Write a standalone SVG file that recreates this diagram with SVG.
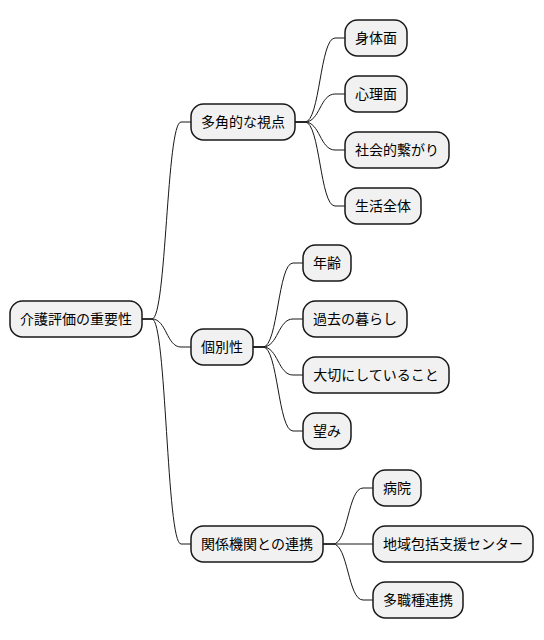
<svg xmlns="http://www.w3.org/2000/svg" width="544" height="640" viewBox="0 0 544 640">
<style>
.box{fill:#F1F1F1;stroke:#181818;stroke-width:1.5}
.lbl{font-family:"Noto Sans CJK JP","Noto Sans CJK SC",sans-serif;font-size:14px;fill:#000000;text-anchor:middle}
.c{fill:none;stroke:#181818;stroke-width:1}
</style>
<rect width="544" height="640" fill="#FFFFFF"/>
<g id="connectors">
<path class="c" d="M142,319 L152,319 C166.5,319 166.5,122 181,122 L191,122"/>
<path class="c" d="M142,319 L152,319 C166.5,319 166.5,347 181,347 L191,347"/>
<path class="c" d="M142,319 L152,319 C166.5,319 166.5,544 181,544 L191,544"/>
<path class="c" d="M295,122 L305,122 C320,122 320,38 335,38 L345,38"/>
<path class="c" d="M295,122 L305,122 C320,122 320,94 335,94 L345,94"/>
<path class="c" d="M295,122 L305,122 C320,122 320,150 335,150 L345,150"/>
<path class="c" d="M295,122 L305,122 C320,122 320,206 335,206 L345,206"/>
<path class="c" d="M253,347 L263,347 C278,347 278,263 293,263 L303,263"/>
<path class="c" d="M253,347 L263,347 C278,347 278,319 293,319 L303,319"/>
<path class="c" d="M253,347 L263,347 C278,347 278,375 293,375 L303,375"/>
<path class="c" d="M253,347 L263,347 C278,347 278,431 293,431 L303,431"/>
<path class="c" d="M323,544 L333,544 C348,544 348,488 363,488 L373,488"/>
<path class="c" d="M323,544 L333,544 L363,544 L373,544"/>
<path class="c" d="M323,544 L333,544 C348,544 348,600 363,600 L373,600"/>
</g>
<g id="root"><rect class="box" x="10" y="301" width="132" height="36" rx="12.5"/><text class="lbl" x="76" y="324">介護評価の重要性</text></g>
<g id="n1"><rect class="box" x="191" y="104" width="104" height="36" rx="12.5"/><text class="lbl" x="243" y="127">多角的な視点</text></g>
<g id="n1a"><rect class="box" x="345" y="20" width="62" height="36" rx="12.5"/><text class="lbl" x="376" y="43">身体面</text></g>
<g id="n1b"><rect class="box" x="345" y="76" width="62" height="36" rx="12.5"/><text class="lbl" x="376" y="99">心理面</text></g>
<g id="n1c"><rect class="box" x="345" y="132" width="104" height="36" rx="12.5"/><text class="lbl" x="397" y="155">社会的繋がり</text></g>
<g id="n1d"><rect class="box" x="345" y="188" width="76" height="36" rx="12.5"/><text class="lbl" x="383" y="211">生活全体</text></g>
<g id="n2"><rect class="box" x="191" y="329" width="62" height="36" rx="12.5"/><text class="lbl" x="222" y="352">個別性</text></g>
<g id="n2a"><rect class="box" x="303" y="245" width="48" height="36" rx="12.5"/><text class="lbl" x="327" y="268">年齢</text></g>
<g id="n2b"><rect class="box" x="303" y="301" width="104" height="36" rx="12.5"/><text class="lbl" x="355" y="324">過去の暮らし</text></g>
<g id="n2c"><rect class="box" x="303" y="357" width="146" height="36" rx="12.5"/><text class="lbl" x="376" y="380">大切にしていること</text></g>
<g id="n2d"><rect class="box" x="303" y="413" width="48" height="36" rx="12.5"/><text class="lbl" x="327" y="436">望み</text></g>
<g id="n3"><rect class="box" x="191" y="526" width="132" height="36" rx="12.5"/><text class="lbl" x="257" y="549">関係機関との連携</text></g>
<g id="n3a"><rect class="box" x="373" y="470" width="48" height="36" rx="12.5"/><text class="lbl" x="397" y="493">病院</text></g>
<g id="n3b"><rect class="box" x="373" y="526" width="160" height="36" rx="12.5"/><text class="lbl" x="453" y="549">地域包括支援センター</text></g>
<g id="n3c"><rect class="box" x="373" y="582" width="90" height="36" rx="12.5"/><text class="lbl" x="418" y="605">多職種連携</text></g>
</svg>
